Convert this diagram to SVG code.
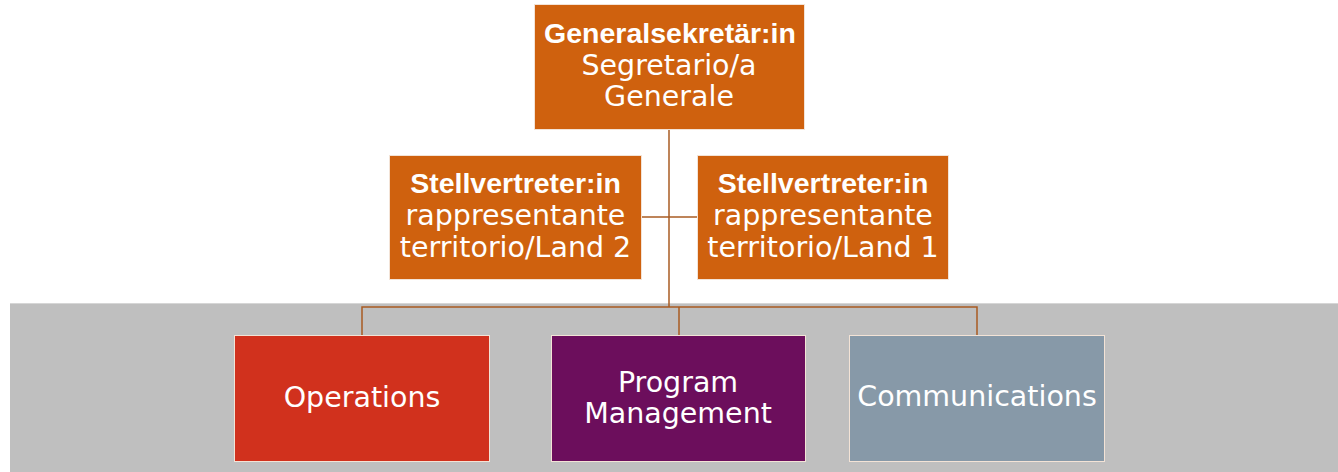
<svg xmlns="http://www.w3.org/2000/svg" width="1338" height="472" viewBox="0 0 1338 472">
<style>
.box{stroke:#f3e3d6;stroke-width:1}
.org{fill:#CF610E}
.t{font-family:"DejaVu Sans","Liberation Sans",sans-serif;font-size:28.5px;fill:#ffffff;text-anchor:middle}
.b{font-family:"Liberation Sans","DejaVu Sans",sans-serif;font-size:28.5px;font-weight:bold;fill:#ffffff;text-anchor:middle}
.c{fill:none;stroke:#A95B22;stroke-width:1.5}
</style>
<rect x="0" y="0" width="1338" height="472" fill="#ffffff"/>
<rect x="10" y="303" width="1328" height="169" fill="#BFBFBF"/>
<line x1="10" y1="303.5" x2="1338" y2="303.5" stroke="#d6d6d6" stroke-width="1"/>
<g id="connectors">
<line class="c" x1="669" y1="129" x2="669" y2="307"/>
<line class="c" x1="642" y1="217" x2="697" y2="217" stroke="#C38A62"/>
<polyline class="c" points="362,335 362,307 977,307 977,335"/>
<line class="c" x1="679" y1="307" x2="679" y2="335"/>
</g>
<g id="node-general">
<rect class="box org" x="534.5" y="4.5" width="270" height="125"/>
<text class="b" x="670" y="43">Generalsekretär:in</text>
<text class="t" x="669" y="75">Segretario/a</text>
<text class="t" x="669" y="106">Generale</text>
</g>
<g id="node-stell-2">
<rect class="box org" x="389.5" y="155.5" width="252" height="124"/>
<text class="b" x="515.5" y="193">Stellvertreter:in</text>
<text class="t" x="515.5" y="225">rappresentante</text>
<text class="t" x="515.5" y="257">territorio/Land 2</text>
</g>
<g id="node-stell-1">
<rect class="box org" x="697.5" y="155.5" width="251" height="124"/>
<text class="b" x="823" y="193">Stellvertreter:in</text>
<text class="t" x="823" y="225">rappresentante</text>
<text class="t" x="823" y="257">territorio/Land 1</text>
</g>
<g id="node-operations">
<rect class="box" x="234.5" y="335.5" width="255" height="126" fill="#D1311D"/>
<text class="t" x="362" y="407">Operations</text>
</g>
<g id="node-program">
<rect class="box" x="551.5" y="335.5" width="254" height="126" fill="#6C0E5C"/>
<text class="t" x="678" y="392">Program</text>
<text class="t" x="678" y="423">Management</text>
</g>
<g id="node-communications">
<rect class="box" x="849.5" y="335.5" width="255" height="126" fill="#8799A8"/>
<text class="t" x="977" y="406">Communications</text>
</g>
</svg>
